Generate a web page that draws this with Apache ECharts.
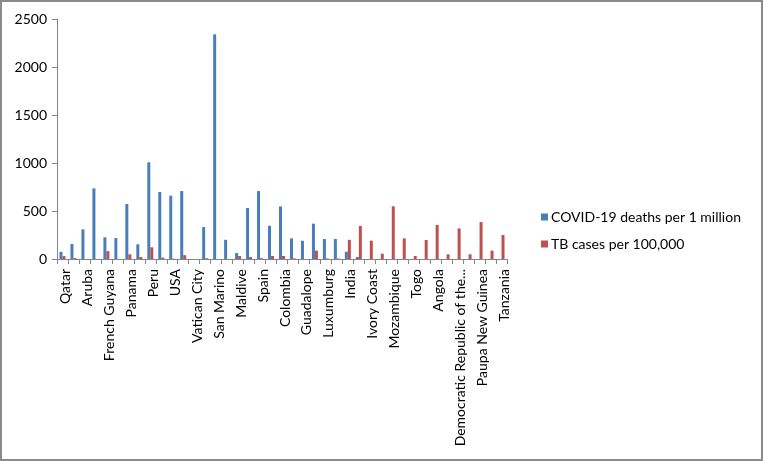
<!DOCTYPE html>
<html>
<head>
<meta charset="utf-8">
<script src="https://cdn.jsdelivr.net/npm/echarts@6/dist/echarts.min.js"></script>
<style>
html,body{margin:0;padding:0;background:#fff;}
#c{width:763px;height:461px;}
</style>
</head>
<body>
<div id="c"></div>
<script>
// Categories (odd positions are unlabelled in the reference)
var categories = [
  "Qatar","", "Aruba","", "French Guyana","", "Panama","", "Peru","", "USA","",
  "Vatican City","", "San Marino","", "Maldive","", "Spain","", "Colombia","",
  "Guadalope","", "Luxumburg","", "India","", "Ivory Coast","", "Mozambique","",
  "Togo","", "Angola","", "Democratic Republic of the Congo","", "Paupa New Guinea","",
  "Tanzania"
];
var covidDeaths = [
  75, 156, 309, 736, 226, 219, 573, 153, 1007, 698, 660, 708,
  0, 333, 2340, 200, 62, 531, 708, 346, 548, 215,
  190, 368, 208, 208, 76, 21, 0, 0, 0, 0,
  0, 0, 0, 0, 0, 0, 0, 0,
  0
];
var tbCases = [
  30, 10, 0, 0, 82, 0, 49, 21, 122, 15, 3, 40,
  0, 8, 0, 0, 31, 20, 8, 31, 31, 5,
  0, 87, 5, 5, 200, 344, 191, 55, 549, 215,
  31, 198, 354, 49, 319, 49, 385, 87,
  250
];
var yTicks = [0, 500, 1000, 1500, 2000, 2500];

var FONT = 'Lato';
var chart = echarts.init(document.getElementById('c'));
chart.setOption({
  animation: false,
  backgroundColor: '#fff',
  textStyle: {fontFamily: FONT},
  graphic: [{
    type: 'rect', silent: true,
    shape: {x: 1, y: 1, width: 761, height: 459},
    style: {fill: 'none', stroke: '#8a8a8a', lineWidth: 2}
  }],
  grid: {left: 57, right: 256, top: 19, bottom: 202, containLabel: false},
  legend: {
    orient: 'vertical', left: 536, top: 205, itemWidth: 7, itemHeight: 7,
    itemGap: 13, icon: 'rect',
    textStyle: {fontFamily: FONT, fontSize: 14, color: '#000', padding: [0, 0, 0, -2]},
    data: ['COVID-19 deaths per 1 million', 'TB cases per 100,000']
  },
  xAxis: {
    type: 'category', data: categories,
    axisLine: {lineStyle: {color: '#868686', width: 1}},
    axisTick: {show: true, interval: 0, length: 5, lineStyle: {color: '#868686'}},
    axisLabel: {
      interval: 1, rotate: 90, fontFamily: FONT, fontSize: 14, color: '#000', margin: 10,
      verticalAlign: 'top', lineHeight: 6,
      formatter: function (v) { return v.length > 28 ? v.slice(0, 26) + '...' : v; }
    }
  },
  yAxis: {
    type: 'value', min: 0, max: 2500, interval: 500,
    axisLine: {show: true, lineStyle: {color: '#868686', width: 1}},
    axisTick: {show: true, length: 5, lineStyle: {color: '#868686'}},
    splitLine: {show: false},
    axisLabel: {fontFamily: FONT, fontSize: 14, color: '#000', margin: 10,
      formatter: function (v) { return yTicks.indexOf(v) >= 0 ? String(v) : ''; }}
  },
  series: [
    {name: 'COVID-19 deaths per 1 million', type: 'bar', data: covidDeaths,
     barWidth: 3, barGap: '0%', itemStyle: {color: '#4A7EBB'}},
    {name: 'TB cases per 100,000', type: 'bar', data: tbCases,
     barWidth: 3, barGap: '0%', itemStyle: {color: '#C0504D'}}
  ]
});
</script>
</body>
</html>
